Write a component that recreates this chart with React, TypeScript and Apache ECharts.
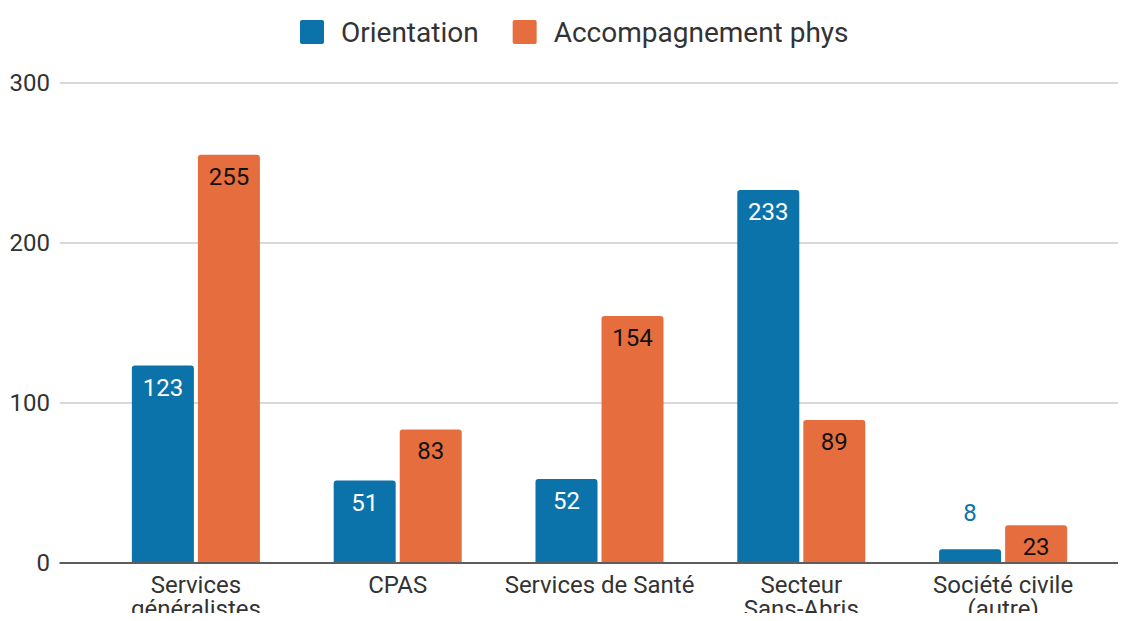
import React, { useEffect, useRef } from "react";
import * as echarts from "echarts";

const categories = [
  "Services\ngénéralistes",
  "CPAS",
  "Services de Santé",
  "Secteur\nSans-Abris",
  "Société civile\n(autre)",
];
const orientation = [123, 51, 52, 233, 8];
const accompagnement = [255, 83, 154, 89, 23];
const seriesNames = ["Orientation", "Accompagnement phys"];
const yTicks = { min: 0, max: 300, interval: 100 };

const BLUE = "#0b72aa";
const ORANGE = "#e66e3e";
const FONT = "Roboto";

export default function App() {
  const ref = useRef<HTMLDivElement>(null);
  useEffect(() => {
    if (!ref.current) return;
    const chart = echarts.init(ref.current, undefined, { renderer: "svg" });
    const insideLabel = (color: string) => ({
      show: true,
      position: "insideTop",
      distance: 10,
      color,
      fontSize: 24,
      fontFamily: FONT,
    });
    chart.setOption({
      animation: false,
      textStyle: { fontFamily: FONT },
      legend: {
        top: 13,
        left: 295,
        itemWidth: 24,
        itemHeight: 24,
        itemGap: 34,
        icon: "path://M2,0H22Q24,0,24,2V22Q24,24,22,24H2Q0,24,0,22V2Q0,0,2,0Z",
        data: seriesNames,
        textStyle: { fontSize: 28, color: "#333", fontFamily: FONT, padding: [0, 0, 0, 12] },
      },
      grid: [
        { left: 60, right: 0, top: 83, bottom: 58, containLabel: false },
        { left: 95, right: 22, top: 83, bottom: 58, containLabel: false },
      ],
      xAxis: [
        {
          gridIndex: 0,
          type: "value",
          min: 0,
          max: 1,
          axisLabel: { show: false },
          axisTick: { show: false },
          splitLine: { show: false },
          axisLine: { show: true, lineStyle: { color: "#333", width: 1.5 } },
        },
        {
          gridIndex: 1,
          type: "category",
          data: categories,
          axisLine: { show: false },
          axisTick: { show: false },
          axisLabel: {
            fontSize: 24,
            lineHeight: 24,
            color: "#333",
            margin: 11,
            fontFamily: FONT,
            interval: 0,
          },
        },
      ],
      yAxis: [
        {
          gridIndex: 0,
          type: "value",
          min: yTicks.min,
          max: yTicks.max,
          interval: yTicks.interval,
          axisLine: { show: false },
          axisTick: { show: false },
          axisLabel: { fontSize: 24, color: "#333", margin: 10, fontFamily: FONT },
          splitLine: { show: true, lineStyle: { color: "#cccccc", width: 1.5 } },
        },
        {
          gridIndex: 1,
          type: "value",
          min: yTicks.min,
          max: yTicks.max,
          interval: yTicks.interval,
          show: false,
          splitLine: { show: false },
        },
      ],
      series: [
        {
          name: seriesNames[0],
          type: "bar",
          xAxisIndex: 1,
          yAxisIndex: 1,
          barWidth: 62,
          barGap: "6.5%",
          itemStyle: { color: BLUE, borderRadius: [3, 3, 0, 0] },
          data: orientation.map((v) =>
            v < 20
              ? {
                  value: v,
                  label: { show: true, position: "top", distance: 24, color: BLUE, fontSize: 24, fontFamily: FONT },
                }
              : v
          ),
          label: insideLabel("#ffffff"),
        },
        {
          name: seriesNames[1],
          type: "bar",
          xAxisIndex: 1,
          yAxisIndex: 1,
          barWidth: 62,
          barGap: "6.5%",
          itemStyle: { color: ORANGE, borderRadius: [3, 3, 0, 0] },
          data: accompagnement,
          label: insideLabel("#111111"),
        },
      ],
    });
    return () => chart.dispose();
  }, []);
  return <div ref={ref} style={{ width: 1126, height: 621, margin: -8 }} />;
}
